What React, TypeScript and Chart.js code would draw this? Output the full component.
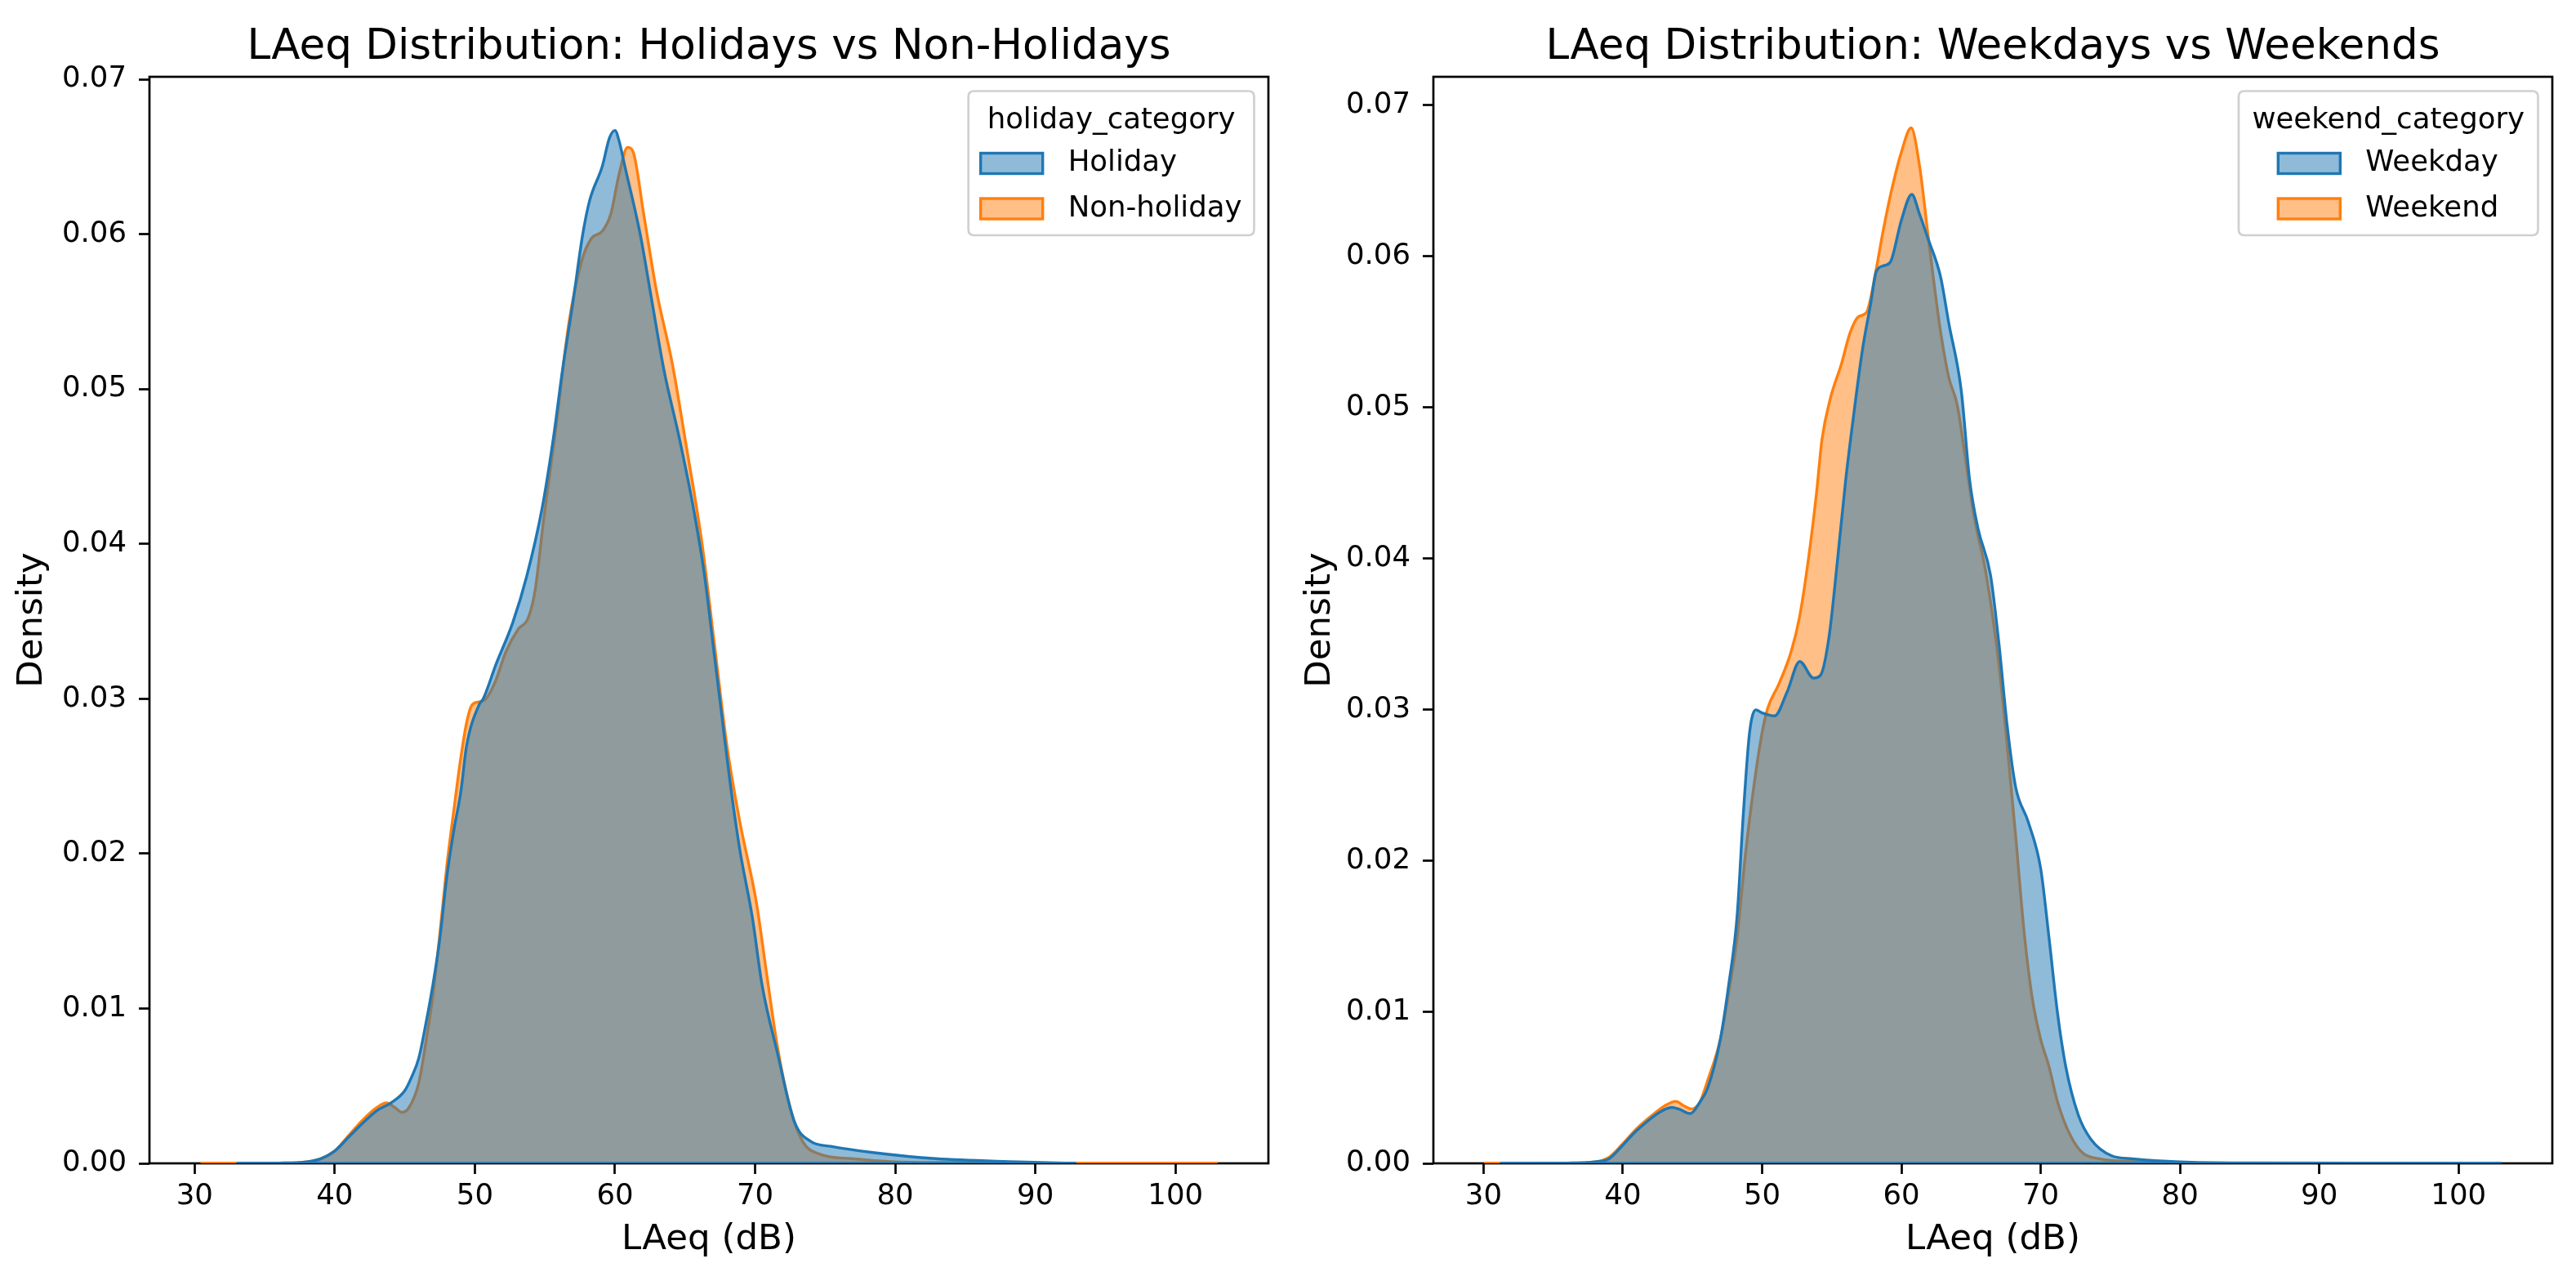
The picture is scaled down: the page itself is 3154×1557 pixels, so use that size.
import React, { useEffect, useRef } from "react";
import { Chart, registerables } from "chart.js";

Chart.register(...registerables);

// ---------- data ----------
const X_TICKS = [30, 40, 50, 60, 70, 80, 90, 100];
const Y_TICKS = [0, 0.01, 0.02, 0.03, 0.04, 0.05, 0.06, 0.07];

const LEFT_X_RANGE = [26.78, 106.63];
const RIGHT_X_RANGE = [26.4, 106.73];
const LEFT_Y_MAX = 0.07016;
const RIGHT_Y_MAX = 0.07188;

const LEFT_TITLE = "LAeq Distribution: Holidays vs Non-Holidays";
const RIGHT_TITLE = "LAeq Distribution: Weekdays vs Weekends";
const X_LABEL = "LAeq (dB)";
const Y_LABEL = "Density";
const LEFT_LEGEND_TITLE = "holiday_category";
const RIGHT_LEGEND_TITLE = "weekend_category";
const LEFT_SERIES = ["Holiday", "Non-holiday"];
const RIGHT_SERIES = ["Weekday", "Weekend"];

const HOLIDAY_X = [33, 36, 38, 39, 40, 41, 42, 43, 44, 45, 45.5, 46, 46.5, 47, 47.5, 48, 48.5, 49, 49.4, 50.3, 50.6, 51.5, 52.7, 53.7, 54.8, 55.6, 56.25, 57.0, 57.7, 58.2, 59.1, 59.6, 60.0, 60.3, 60.7, 61.8, 62.65, 63.5, 64.6, 65.6, 66.4, 67.0, 67.6, 68.2, 68.9, 69.8, 70.5, 71.6, 72.8, 74.0, 75.4, 78.4, 82.9, 88.8, 92.9];
const HOLIDAY_Y = [0, 0.00002, 0.0001, 0.0003, 0.0008, 0.0017, 0.0026, 0.0034, 0.0039, 0.0047, 0.0056, 0.0068, 0.009, 0.0115, 0.0145, 0.0185, 0.0215, 0.024, 0.0269, 0.0296, 0.03, 0.0322, 0.0349, 0.0379, 0.0423, 0.0468, 0.0512, 0.0556, 0.06, 0.0622, 0.0644, 0.0662, 0.0667, 0.066, 0.0644, 0.06, 0.0556, 0.0512, 0.0468, 0.0423, 0.0379, 0.0335, 0.0291, 0.0247, 0.0203, 0.0159, 0.0115, 0.0071, 0.0027, 0.0014, 0.0011, 0.0007, 0.0003, 0.0001, 0];

const NONHOLIDAY_X = [30.43, 33, 36, 38, 39, 40, 41, 42, 43, 43.7, 44.3, 44.8, 45.3, 46, 46.5, 47, 47.5, 48, 48.5, 49, 49.4, 49.8, 50.3, 50.8, 51.5, 52.2, 53.1, 53.8, 54.3, 54.9, 55.8, 56.7, 57.6, 58.3, 59.1, 59.7, 60.3, 60.9, 61.3, 62.05, 62.95, 64.1, 65.0, 66.2, 67.1, 68.0, 68.9, 70.1, 70.8, 71.6, 72.5, 73.4, 74.6, 76.9, 80, 85, 90, 95, 103];
const NONHOLIDAY_Y = [0, 0, 0.00002, 0.0001, 0.0003, 0.0008, 0.0018, 0.0028, 0.0036, 0.0039, 0.0036, 0.0033, 0.0036, 0.0052, 0.0078, 0.0108, 0.0148, 0.0192, 0.0228, 0.0262, 0.0284, 0.0296, 0.0298, 0.03, 0.0312, 0.033, 0.0345, 0.0352, 0.037, 0.0415, 0.0476, 0.0542, 0.0582, 0.0597, 0.0602, 0.0613, 0.0639, 0.0656, 0.0653, 0.0613, 0.0564, 0.0516, 0.0468, 0.0401, 0.0335, 0.0269, 0.0221, 0.0168, 0.0124, 0.0075, 0.0036, 0.0014, 0.0006, 0.0003, 0.0001, 0.00005, 0.00002, 0.00001, 0];

const WEEKDAY_X = [31.2, 36, 38, 39, 40, 40.8, 41.4, 42.5, 43.5, 44.0, 44.85, 45.5, 46.1, 47.0, 47.6, 48.2, 48.65, 49.1, 49.55, 50.0, 50.9, 51.8, 52.7, 53.7, 54.2, 54.8, 55.4, 56.0, 56.6, 57.2, 57.8, 58.2, 58.8, 59.25, 60.0, 60.75, 61.3, 61.9, 62.8, 63.4, 64.3, 64.9, 65.5, 66.4, 67.0, 67.6, 68.2, 69.1, 70.0, 70.6, 71.2, 71.8, 72.7, 73.6, 75.1, 76.6, 80, 85, 103.08];
const WEEKDAY_Y = [0, 0.00002, 0.0001, 0.0003, 0.0012, 0.002, 0.0025, 0.0033, 0.0037, 0.0036, 0.0033, 0.004, 0.005, 0.0082, 0.0118, 0.0163, 0.0231, 0.0285, 0.03, 0.0298, 0.0296, 0.0312, 0.0332, 0.0321, 0.0323, 0.0348, 0.0398, 0.0452, 0.0497, 0.0538, 0.0569, 0.059, 0.0594, 0.0597, 0.0624, 0.0641, 0.0628, 0.0612, 0.0587, 0.0556, 0.0511, 0.0452, 0.042, 0.0389, 0.0344, 0.0289, 0.0249, 0.0226, 0.0195, 0.0149, 0.01, 0.0064, 0.0032, 0.0016, 0.0005, 0.0003, 0.0001, 0.00003, 0];

const WEEKEND_X = [30.05, 36, 38, 39, 40, 41, 42, 43, 43.8, 44.4, 44.9, 45.5, 46.1, 47.0, 47.6, 48.2, 48.8, 49.4, 50.0, 50.4, 51.2, 52.1, 52.7, 53.3, 53.9, 54.3, 54.9, 55.7, 56.3, 56.9, 57.5, 58.2, 58.65, 59.25, 60.0, 60.7, 61.3, 61.9, 62.4, 62.8, 63.4, 64.0, 64.6, 65.2, 66.1, 67.0, 67.6, 68.2, 68.8, 69.4, 70.0, 70.6, 71.2, 72.1, 73.0, 74.2, 77, 80, 83];
const WEEKEND_Y = [0, 0.00002, 0.0001, 0.0004, 0.0013, 0.0023, 0.0031, 0.0038, 0.0041, 0.0038, 0.0036, 0.004, 0.0055, 0.0082, 0.0113, 0.0149, 0.0204, 0.0249, 0.0285, 0.0301, 0.0317, 0.0339, 0.0362, 0.0398, 0.0443, 0.0479, 0.0506, 0.0529, 0.0549, 0.056, 0.0563, 0.0592, 0.0615, 0.0642, 0.0669, 0.0685, 0.066, 0.0615, 0.0578, 0.0551, 0.052, 0.0502, 0.0466, 0.0429, 0.0389, 0.033, 0.0276, 0.0217, 0.0154, 0.0109, 0.0082, 0.0064, 0.0041, 0.0019, 0.0007, 0.0003, 0.0001, 0.00003, 0];

// ---------- styles ----------
const FONT = "'DejaVu Sans', sans-serif";
const BLUE = "#1f77b4";
const ORANGE = "#ff7f0e";
const BLUE_FILL = "rgba(31,119,180,0.5)";
const ORANGE_FILL = "rgba(255,127,14,0.5)";
const FIG_W = 3154;
const FIG_H = 1557;
const PANEL_W = 1577;
const TICK_PX = 35.5;
const LEGEND_PX = 35.5;
const LABEL_PX = 43.5;
const TITLE_PX = 51.5;

function toPoints(xs: number[], ys: number[]) {
  return xs.map((x, i) => ({ x, y: ys[i] }));
}

// the closing edge of a filled KDE polygon runs along y = 0 over the data span
function baseline(xs: number[]) {
  return [
    { x: xs[0], y: 0 },
    { x: xs[xs.length - 1], y: 0 },
  ];
}

const framePlugin = {
  id: "axFrame",
  beforeDatasetsDraw(chart: any) {
    const { ctx, chartArea } = chart;
    ctx.save();
    ctx.strokeStyle = "#000";
    ctx.lineWidth = 2.7;
    ctx.strokeRect(chartArea.left, chartArea.top, chartArea.right - chartArea.left, chartArea.bottom - chartArea.top);
    ctx.restore();
  },
};

const titlePlugin = {
  id: "axTitle",
  afterDraw(chart: any, _args: any, opts: any) {
    const { ctx, chartArea } = chart;
    ctx.save();
    ctx.font = `${TITLE_PX}px ${FONT}`;
    ctx.fillStyle = "#000";
    ctx.textAlign = "center";
    ctx.textBaseline = "alphabetic";
    ctx.fillText(opts.text, (chartArea.left + chartArea.right) / 2, 72);
    ctx.restore();
  },
};

const legendPlugin = {
  id: "boxLegend",
  afterDraw(chart: any, _args: any, opts: any) {
    const { ctx, chartArea } = chart;
    ctx.save();
    ctx.font = `${LEGEND_PX}px ${FONT}`;
    const titleW = ctx.measureText(opts.title).width;
    const items = chart.data.datasets
      .filter((d: any) => !d.isBase)
      .map((d: any) => ({ label: d.label, stroke: d.borderColor, fill: d.backgroundColor }));
    const textW = Math.max(...items.map((it: any) => ctx.measureText(it.label).width));
    const handleW = 76;
    const gap = 31;
    const blockW = handleW + gap + textW;
    const frameW = Math.max(titleW + 33, blockW + 30);
    const right = chartArea.right - 17.5;
    const left = right - frameW;
    const top = chartArea.top + 17.5;
    const h = 176.5;
    const r = 7;
    ctx.beginPath();
    ctx.moveTo(left + r, top);
    ctx.lineTo(right - r, top);
    ctx.quadraticCurveTo(right, top, right, top + r);
    ctx.lineTo(right, top + h - r);
    ctx.quadraticCurveTo(right, top + h, right - r, top + h);
    ctx.lineTo(left + r, top + h);
    ctx.quadraticCurveTo(left, top + h, left, top + h - r);
    ctx.lineTo(left, top + r);
    ctx.quadraticCurveTo(left, top, left + r, top);
    ctx.closePath();
    ctx.fillStyle = "rgba(255,255,255,0.8)";
    ctx.fill();
    ctx.strokeStyle = "#d0d0d0";
    ctx.lineWidth = 2.7;
    ctx.stroke();

    ctx.fillStyle = "#000";
    ctx.textAlign = "center";
    ctx.textBaseline = "alphabetic";
    ctx.fillText(opts.title, left + frameW / 2, top + 45.5);

    const bx = left + (frameW - blockW) / 2;
    items.forEach((it: any, i: number) => {
      const cy = top + 88.5 + i * 55.5;
      ctx.fillStyle = it.fill;
      ctx.fillRect(bx, cy - 12.5, handleW, 25);
      ctx.strokeStyle = it.stroke;
      ctx.lineWidth = 3.4;
      ctx.strokeRect(bx, cy - 12.5, handleW, 25);
      ctx.fillStyle = "#000";
      ctx.textAlign = "left";
      ctx.textBaseline = "middle";
      ctx.fillText(it.label, bx + handleW + gap, cy);
    });
    ctx.restore();
  },
};

type Spec = {
  title: string;
  legendTitle: string;
  labels: string[];
  x0: number[];
  y0: number[];
  x1: number[];
  y1: number[];
  xRange: number[];
  yMax: number;
  yAxisWidth: number;
  padRight: number;
};

function buildConfig(s: Spec): any {
  const tickFont = { family: FONT, size: TICK_PX, lineHeight: 1.2 };
  const titleFont = { family: FONT, size: LABEL_PX, lineHeight: 1 };
  const grid = {
    display: true,
    drawOnChartArea: false,
    drawTicks: true,
    tickLength: 13,
    tickWidth: 2.7,
    tickColor: "#000",
  };
  return {
    type: "line",
    data: {
      datasets: [
        { label: s.labels[0], data: toPoints(s.x0, s.y0), borderColor: BLUE, backgroundColor: BLUE_FILL, fill: "origin", order: 0 },
        { label: s.labels[0] + " edge", isBase: true, data: baseline(s.x0), borderColor: BLUE, backgroundColor: BLUE, fill: false, order: 1 },
        { label: s.labels[1], data: toPoints(s.x1, s.y1), borderColor: ORANGE, backgroundColor: ORANGE_FILL, fill: "origin", order: 2 },
        { label: s.labels[1] + " edge", isBase: true, data: baseline(s.x1), borderColor: ORANGE, backgroundColor: ORANGE, fill: false, order: 3 },
      ],
    },
    options: {
      animation: false,
      responsive: false,
      maintainAspectRatio: false,
      devicePixelRatio: 1,
      events: [],
      elements: {
        line: { borderWidth: 3.4, cubicInterpolationMode: "monotone", borderJoinStyle: "round" },
        point: { radius: 0, hoverRadius: 0 },
      },
      layout: { padding: { left: 0, right: s.padRight, top: 94, bottom: 0 } },
      scales: {
        x: {
          type: "linear",
          min: s.xRange[0],
          max: s.xRange[1],
          afterBuildTicks: (sc: any) => {
            sc.ticks = X_TICKS.map((v) => ({ value: v }));
          },
          afterFit: (sc: any) => {
            sc.height = 133;
          },
          ticks: { font: tickFont, color: "#000", padding: 6.7, autoSkip: false, maxRotation: 0, callback: (v: any) => String(v) },
          grid,
          border: { display: false },
          title: { display: true, text: X_LABEL, font: titleFont, color: "#000", padding: { top: 0, bottom: 17.75 } },
        },
        y: {
          type: "linear",
          min: 0,
          max: s.yMax,
          afterBuildTicks: (sc: any) => {
            sc.ticks = Y_TICKS.map((v) => ({ value: v }));
          },
          afterFit: (sc: any) => {
            sc.width = s.yAxisWidth;
          },
          ticks: { font: tickFont, color: "#000", padding: 15, autoSkip: false, callback: (v: any) => Number(v).toFixed(2) },
          grid,
          border: { display: false },
          title: { display: true, text: Y_LABEL, font: titleFont, color: "#000", padding: { top: 18.25, bottom: 0 } },
        },
      },
      plugins: {
        legend: { display: false },
        tooltip: { enabled: false },
        axTitle: { text: s.title },
        boxLegend: { title: s.legendTitle },
      },
    },
    plugins: [framePlugin, titlePlugin, legendPlugin],
  };
}

function Panel({ spec, left }: { spec: Spec; left: number }) {
  const ref = useRef<HTMLCanvasElement>(null);
  useEffect(() => {
    const chart = new Chart(ref.current as HTMLCanvasElement, buildConfig(spec));
    return () => chart.destroy();
  }, []);
  return (
    <canvas
      ref={ref}
      width={PANEL_W}
      height={FIG_H}
      style={{ position: "absolute", left, top: 0, width: PANEL_W, height: FIG_H, display: "block" }}
    />
  );
}

const LEFT_SPEC: Spec = {
  title: LEFT_TITLE,
  legendTitle: LEFT_LEGEND_TITLE,
  labels: LEFT_SERIES,
  x0: HOLIDAY_X,
  y0: HOLIDAY_Y,
  x1: NONHOLIDAY_X,
  y1: NONHOLIDAY_Y,
  xRange: LEFT_X_RANGE,
  yMax: LEFT_Y_MAX,
  yAxisWidth: 183,
  padRight: PANEL_W - 1553,
};

const RIGHT_SPEC: Spec = {
  title: RIGHT_TITLE,
  legendTitle: RIGHT_LEGEND_TITLE,
  labels: RIGHT_SERIES,
  x0: WEEKDAY_X,
  y0: WEEKDAY_Y,
  x1: WEEKEND_X,
  y1: WEEKEND_Y,
  xRange: RIGHT_X_RANGE,
  yMax: RIGHT_Y_MAX,
  yAxisWidth: 1755 - PANEL_W,
  padRight: FIG_W - 3125,
};

export default function App() {
  return (
    <div style={{ position: "absolute", left: 0, top: 0, width: FIG_W, height: FIG_H, background: "#fff", overflow: "hidden" }}>
      <Panel spec={LEFT_SPEC} left={0} />
      <Panel spec={RIGHT_SPEC} left={PANEL_W} />
    </div>
  );
}
